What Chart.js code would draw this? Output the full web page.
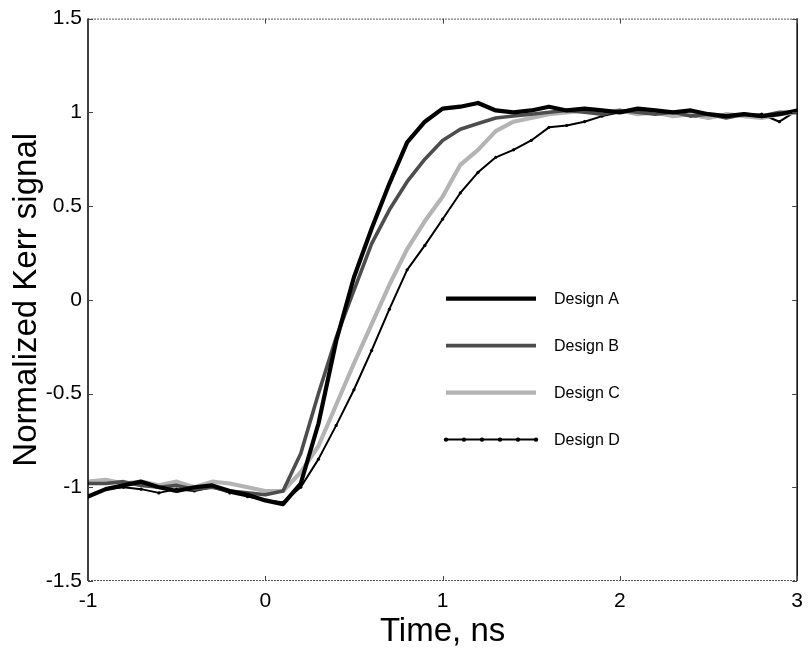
<!DOCTYPE html>
<html>
<head>
<meta charset="utf-8">
<script src="https://cdn.jsdelivr.net/npm/chart.js@4.4.1/dist/chart.umd.min.js"></script>
<style>
  html, body { margin: 0; padding: 0; background: #fff; }
  canvas { display: block; }
</style>
</head>
<body>
<canvas id="c" width="811" height="650"></canvas>
<script>
// ---- data ----
const timeNs = [-1.0,-0.9,-0.8,-0.7,-0.6,-0.5,-0.4,-0.3,-0.2,-0.1,0.0,
                 0.1,0.2,0.3,0.4,0.5,0.6,0.7,0.8,0.9,1.0,
                 1.1,1.2,1.3,1.4,1.5,1.6,1.7,1.8,1.9,2.0,
                 2.1,2.2,2.3,2.4,2.5,2.6,2.7,2.8,2.9,3.0];

const designA = [-1.05,-1.01,-0.99,-0.97,-1.00,-1.02,-1.00,-0.99,-1.02,-1.04,-1.07,
                 -1.09,-0.98,-0.66,-0.22,0.12,0.38,0.62,0.84,0.95,1.02,
                 1.03,1.05,1.01,1.00,1.01,1.03,1.01,1.02,1.01,1.00,
                 1.02,1.01,1.00,1.01,0.99,0.98,0.99,0.98,0.99,1.01];

const designB = [-0.98,-0.98,-0.97,-0.99,-1.00,-0.99,-1.01,-1.00,-1.02,-1.03,-1.04,
                 -1.02,-0.82,-0.50,-0.20,0.05,0.30,0.48,0.63,0.75,0.85,
                 0.91,0.94,0.97,0.98,0.99,1.00,1.01,1.00,0.99,1.01,
                 1.00,0.99,1.00,0.98,0.99,0.97,0.99,0.98,1.00,1.00];

const designC = [-0.97,-0.96,-0.98,-0.97,-0.99,-0.97,-1.00,-0.97,-0.98,-1.00,-1.02,
                 -1.02,-0.92,-0.78,-0.56,-0.34,-0.13,0.08,0.27,0.42,0.55,
                 0.72,0.80,0.90,0.95,0.97,0.99,1.00,1.01,1.00,1.01,
                 0.99,1.00,0.98,0.99,0.97,0.99,0.98,0.97,0.99,1.00];

const designD = [-1.05,-1.01,-1.00,-1.01,-1.03,-1.01,-1.02,-1.00,-1.03,-1.05,-1.07,
                 -1.08,-1.00,-0.85,-0.67,-0.48,-0.27,-0.05,0.16,0.29,0.43,
                 0.57,0.68,0.76,0.80,0.85,0.92,0.93,0.95,0.98,1.00,
                 1.01,1.00,0.99,0.98,0.97,0.99,0.98,0.99,0.95,1.01];

const seriesNames = ['Design A','Design B','Design C','Design D'];
const xTickLabels = ['-1','0','1','2','3'];
const yTickLabels = ['-1.5','-1','-0.5','0','0.5','1','1.5'];
const xTitle = 'Time, ns';
const yTitle = 'Normalized Kerr signal';

// ---- build chart ----
const FONT = "'Liberation Sans', Arial, Helvetica, sans-serif";
const toPts = arr => arr.map((v, i) => ({x: timeNs[i], y: v}));

const styles = [
  {borderColor:'#000000', borderWidth:4.2, pointRadius:0},
  {borderColor:'#4d4d4d', borderWidth:3.6, pointRadius:0},
  {borderColor:'#b4b4b4', borderWidth:4.2, pointRadius:0},
  {borderColor:'#000000', borderWidth:2.0, pointRadius:1.6, pointBackgroundColor:'#000', pointBorderWidth:0}
];
const seriesData = [designA, designB, designC, designD];

const datasets = seriesData.map((arr, i) => Object.assign({
  label: seriesNames[i],
  data: toPts(arr),
  fill: false,
  tension: 0,
  borderJoinStyle: 'round',
  borderCapStyle: 'round'
}, styles[i]));

const framePlugin = {
  id: 'frameTicksLegend',
  afterDatasetsDraw(chart) {
    const {ctx, chartArea: a, scales: {x, y}} = chart;
    ctx.save();
    // frame
    ctx.strokeStyle = '#000';
    ctx.lineWidth = 1.5;
    ctx.beginPath();
    ctx.moveTo(a.left, a.top); ctx.lineTo(a.left, a.bottom);
    ctx.moveTo(a.right, a.top); ctx.lineTo(a.right, a.bottom);
    ctx.stroke();
    ctx.strokeStyle = '#555';
    ctx.lineWidth = 1;
    ctx.setLineDash([2, 1]);
    ctx.beginPath();
    ctx.moveTo(a.left, a.top + 0.5); ctx.lineTo(a.right, a.top + 0.5);
    ctx.moveTo(a.left, a.bottom - 0.5); ctx.lineTo(a.right, a.bottom - 0.5);
    ctx.stroke();
    ctx.setLineDash([]);
    // inward ticks
    const tl = 5;
    ctx.strokeStyle = '#444';
    ctx.lineWidth = 1;
    ctx.beginPath();
    x.ticks.forEach(t => {
      const px = Math.round(x.getPixelForValue(t.value)) + 0.5;
      ctx.moveTo(px, a.bottom); ctx.lineTo(px, a.bottom - tl);
      ctx.moveTo(px, a.top); ctx.lineTo(px, a.top + tl);
    });
    y.ticks.forEach(t => {
      const py = Math.round(y.getPixelForValue(t.value)) + 0.5;
      ctx.moveTo(a.left, py); ctx.lineTo(a.left + tl, py);
      ctx.moveTo(a.right, py); ctx.lineTo(a.right - tl, py);
    });
    ctx.stroke();
    // legend
    const lx0 = a.left + 358, lx1 = a.left + 448, tx = a.left + 466;
    const ly0 = a.top + 280, dy = 47;
    ctx.font = '16px ' + FONT;
    ctx.textBaseline = 'middle';
    ctx.textAlign = 'left';
    chart.data.datasets.forEach((ds, i) => {
      const ly = ly0 + i * dy;
      ctx.strokeStyle = ds.borderColor;
      ctx.lineWidth = ds.borderWidth;
      ctx.lineCap = 'butt';
      ctx.beginPath(); ctx.moveTo(lx0, ly); ctx.lineTo(lx1, ly); ctx.stroke();
      if (ds.pointRadius > 0) {
        ctx.fillStyle = ds.borderColor;
        for (let k = 0; k <= 5; k++) {
          const px = lx0 + k * (lx1 - lx0) / 5;
          ctx.beginPath(); ctx.arc(px, ly, ds.pointRadius + 0.6, 0, Math.PI * 2); ctx.fill();
        }
      }
      ctx.fillStyle = '#000';
      ctx.fillText(ds.label, tx, ly + 1);
    });
    ctx.restore();
  }
};

new Chart(document.getElementById('c'), {
  type: 'line',
  data: { datasets },
  options: {
    responsive: false,
    animation: false,
    events: [],
    layout: { padding: { top: 18, right: 9, left: 0, bottom: 0 } },
    plugins: { legend: { display: false }, tooltip: { enabled: false } },
    scales: {
      x: {
        type: 'linear', min: -1, max: 3,
        afterFit: s => { s.height = 69; },
        grid: { display: false, drawTicks: false },
        border: { display: false },
        ticks: {
          stepSize: 1, padding: 8, color: '#000',
          font: { family: FONT, size: 21 },
          maxRotation: 0,
          callback: (v, i) => xTickLabels[i]
        },
        title: {
          display: true, text: xTitle, color: '#000',
          font: { family: FONT, size: 33, lineHeight: 1 },
          padding: { top: 0, bottom: 2 }
        }
      },
      y: {
        type: 'linear', min: -1.5, max: 1.5,
        afterFit: s => { s.width = 88; },
        grid: { display: false, drawTicks: false },
        border: { display: false },
        ticks: {
          stepSize: 0.5, padding: 6, color: '#000',
          font: { family: FONT, size: 21 },
          callback: (v, i) => yTickLabels[i]
        },
        title: {
          display: true, text: yTitle, color: '#000',
          font: { family: FONT, size: 33, lineHeight: 1 },
          padding: { top: 10, bottom: 0 }
        }
      }
    }
  },
  plugins: [framePlugin]
});
</script>
</body>
</html>
